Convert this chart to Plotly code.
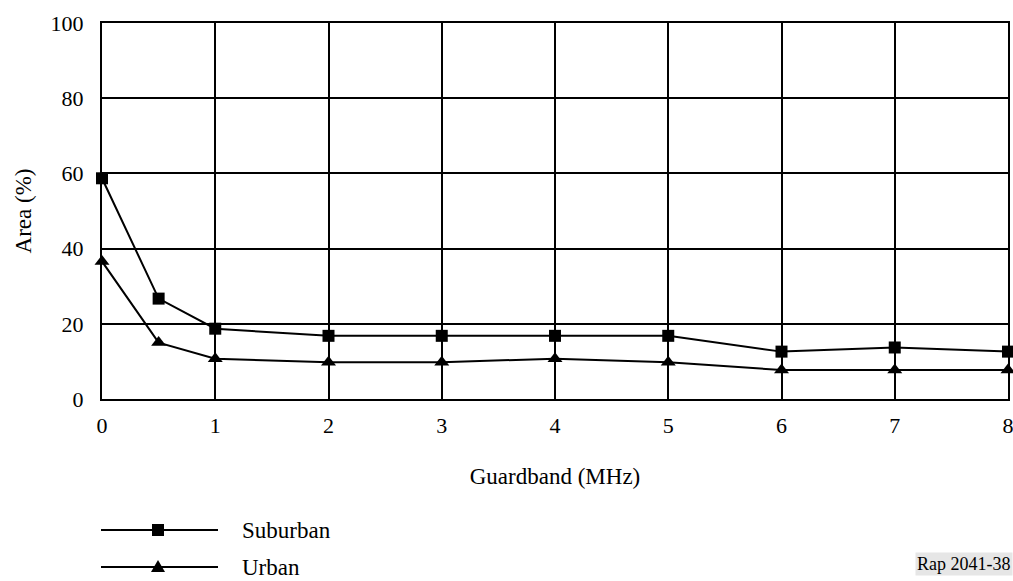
import plotly.graph_objects as go

guardband = [0, 0.5, 1, 2, 3, 4, 5, 6, 7, 8]
suburban = [58.7, 26.7, 18.7, 16.8, 16.8, 16.8, 16.8, 12.6, 13.7, 12.6]
urban = [36.6, 15.0, 10.7, 9.8, 9.8, 10.7, 9.8, 7.7, 7.7, 7.7]
x_ticks = [0, 1, 2, 3, 4, 5, 6, 7, 8]
y_ticks = [0, 20, 40, 60, 80, 100]
series_names = ["Suburban", "Urban"]

FONT = "Liberation Serif"
W, H = 1013, 581
ML, MR, MT, MB = 102, 5, 23, 182
PW, PH = W - ML - MR, H - MT - MB


def px_x(px):
    return (px - ML) / PW


def px_y(py):
    return (H - MB - py) / PH


fig = go.Figure()
fig.add_trace(go.Scatter(x=guardband, y=suburban, mode="lines+markers", name=series_names[0],
                         line=dict(color="black", width=2),
                         marker=dict(symbol="square", size=12, color="black"),
                         cliponaxis=False, showlegend=False))
fig.add_trace(go.Scatter(x=guardband, y=urban, mode="lines+markers", name=series_names[1],
                         line=dict(color="black", width=2),
                         marker=dict(symbol="triangle-up", size=13, color="black"),
                         cliponaxis=False, showlegend=False))

# manual legend (styling only)
shapes = []
annotations = []
leg_rows = [530, 567]
for i, (name, ly) in enumerate(zip(series_names, leg_rows)):
    yy = px_y(ly)
    shapes.append(dict(type="line", xref="paper", yref="paper", x0=px_x(101), x1=px_x(218),
                       y0=yy, y1=yy, line=dict(color="black", width=2)))
    if i == 0:
        shapes.append(dict(type="rect", xref="paper", yref="paper", xsizemode="pixel", ysizemode="pixel",
                           xanchor=px_x(158), yanchor=yy, x0=-6, x1=6, y0=-6, y1=6,
                           fillcolor="black", line=dict(width=0)))
    else:
        shapes.append(dict(type="path", xref="paper", yref="paper", xsizemode="pixel", ysizemode="pixel",
                           xanchor=px_x(158), yanchor=yy, path="M-7,-5 L7,-5 L0,7 Z",
                           fillcolor="black", line=dict(width=0)))
    annotations.append(dict(text=name, xref="paper", yref="paper", x=px_x(240), y=yy,
                            xanchor="left", yanchor="middle", showarrow=False,
                            font=dict(family=FONT, size=23, color="black")))

annotations.append(dict(text="Rap 2041-38", xref="paper", yref="paper", x=px_x(1013), y=px_y(564),
                        xanchor="right", yanchor="middle", showarrow=False,
                        bgcolor="#e6e6e6", font=dict(family=FONT, size=18, color="black")))

fig.update_layout(
    width=W, height=H,
    margin=dict(l=ML, r=MR, t=MT, b=MB, autoexpand=False),
    paper_bgcolor="white", plot_bgcolor="white",
    font=dict(family=FONT, size=22, color="black"),
    showlegend=False,
    xaxis=dict(range=[0, 8], tickvals=x_ticks, automargin=False,
               showgrid=True, gridcolor="black", gridwidth=2,
               showline=True, linecolor="black", linewidth=2, mirror=True,
               zeroline=False, ticks="", ticklen=0, ticklabelstandoff=6,
               ticklabeloverflow="allow",
               title=dict(text="Guardband (MHz)", font=dict(family=FONT, size=23), standoff=30),
               tickfont=dict(family=FONT, size=22)),
    yaxis=dict(range=[0, 100], tickvals=y_ticks, automargin=False,
               showgrid=True, gridcolor="black", gridwidth=2,
               showline=True, linecolor="black", linewidth=2, mirror=True,
               zeroline=False, ticks="", ticklen=0, ticklabelstandoff=12,
               ticklabeloverflow="allow",
               title=dict(text="Area (%)", font=dict(family=FONT, size=23), standoff=13),
               tickfont=dict(family=FONT, size=22)),
    shapes=shapes,
    annotations=annotations,
)

fig.write_html("out.html", config={"displayModeBar": False},
               post_script="document.body.style.margin='0';")
